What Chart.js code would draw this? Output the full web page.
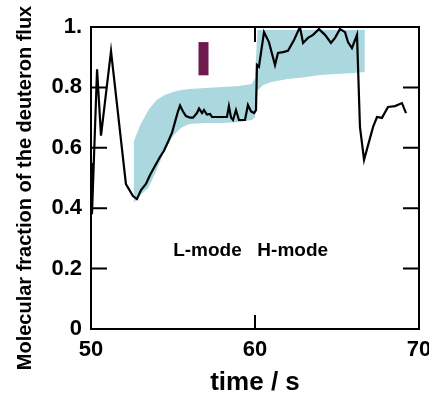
<!DOCTYPE html>
<html>
<head>
<meta charset="utf-8">
<script src="https://cdn.jsdelivr.net/npm/chart.js@4.4.1/dist/chart.umd.min.js"></script>
<style>
  html, body { margin: 0; padding: 0; background: #fff; }
  #wrap { width: 429px; height: 400px; position: relative; }
</style>
</head>
<body>
<div id="wrap"><canvas id="chart"></canvas></div>
<script>
// measured deuteron molecular fraction (black trace)
const timeS = [
  50.0, 50.06, 50.37, 50.61, 51.22, 52.13, 52.56, 52.80, 53.05, 53.35,
  53.60, 53.90, 54.21, 54.45, 54.70, 54.94, 55.12, 55.30, 55.43, 55.61,
  55.79, 56.04, 56.22, 56.46, 56.59, 56.77, 56.89, 57.07, 57.26, 57.38,
  57.62, 57.99, 58.29, 58.41, 58.54, 58.66, 58.84, 59.02, 59.39, 59.57,
  59.76, 59.94, 60.06, 60.12, 60.24, 60.55, 60.85, 61.22, 61.40, 61.71,
  62.01, 62.38, 62.74, 62.93, 63.23, 63.54, 63.90, 64.27, 64.63, 64.88,
  65.18, 65.49, 65.67, 65.91, 66.22, 66.40, 66.65, 67.20, 67.44, 67.74,
  68.11, 68.54, 68.96, 69.21
];
const fraction = [
  0.55, 0.38, 0.86, 0.64, 0.92, 0.48, 0.44, 0.43, 0.46, 0.48,
  0.51, 0.54, 0.57, 0.59, 0.62, 0.65, 0.685, 0.72, 0.74, 0.72,
  0.705, 0.70, 0.70, 0.715, 0.73, 0.715, 0.725, 0.71, 0.712, 0.702,
  0.702, 0.702, 0.702, 0.738, 0.70, 0.692, 0.725, 0.692, 0.692, 0.742,
  0.72, 0.715, 0.725, 0.874, 0.868, 0.983, 0.95, 0.874, 0.914, 0.917,
  0.921, 0.957, 1.0, 0.947, 0.964, 0.974, 0.993, 0.974, 0.947, 0.964,
  0.993, 0.983, 0.95, 0.93, 0.974, 0.669, 0.56, 0.669, 0.702, 0.699,
  0.735, 0.738, 0.748, 0.715
];

// shaded band (model range)
const bandTime = [
  52.6, 53.0, 53.5, 54.0, 54.5, 55.0, 55.5, 56.0, 57.0, 58.0,
  59.0, 59.8, 60.0, 60.15, 60.5, 61.0, 62.0, 63.0, 64.0, 65.0,
  66.0, 66.7
];
const bandUpper = [
  0.62, 0.675, 0.725, 0.758, 0.775, 0.785, 0.791, 0.795, 0.798, 0.801,
  0.805, 0.811, 0.83, 0.99, 0.99, 0.99, 0.99, 0.99, 0.99, 0.99,
  0.99, 0.99
];
const bandLower = [
  0.417, 0.444, 0.467, 0.526, 0.593, 0.639, 0.666, 0.679, 0.682, 0.682,
  0.685, 0.692, 0.70, 0.79, 0.808, 0.818, 0.828, 0.834, 0.841, 0.844,
  0.848, 0.851
];

// short vertical marker (error bar)
const markerTime = [56.86, 56.86];
const markerValue = [0.84, 0.95];

const yTickLabels = { 0: "0", 0.2: "0.2", 0.4: "0.4", 0.6: "0.6", 0.8: "0.8", 1: "1." };
const innerTicksY = [0.2, 0.4, 0.6, 0.8];
const innerTicksX = [60];

const modeLabels = [
  { text: "L-mode", x: 57.1, y: 0.26 },
  { text: "H-mode", x: 62.3, y: 0.26 }
];

const FONT = "'Liberation Sans', Arial, Helvetica, sans-serif";

function toPoints(xs, ys) {
  return xs.map((x, i) => ({ x: x, y: ys[i] }));
}

const framePlugin = {
  id: "frame",
  afterDraw(chart) {
    const { ctx, chartArea: a, scales: { x, y } } = chart;
    ctx.save();
    ctx.strokeStyle = "#000";
    ctx.lineWidth = 2;
    ctx.beginPath();
    ctx.moveTo(a.left, a.top);
    ctx.lineTo(a.right, a.top);
    ctx.lineTo(a.right, a.bottom);
    ctx.stroke();

    ctx.beginPath();
    innerTicksY.forEach(v => {
      const py = y.getPixelForValue(v);
      ctx.moveTo(a.left, py);
      ctx.lineTo(a.left + 16, py);
      ctx.moveTo(a.right, py);
      ctx.lineTo(a.right - 16, py);
    });
    innerTicksX.forEach(v => {
      const px = x.getPixelForValue(v);
      ctx.moveTo(px, a.bottom);
      ctx.lineTo(px, a.bottom - 14);
      ctx.moveTo(px, a.top);
      ctx.lineTo(px, a.top + 15);
    });
    ctx.stroke();

    ctx.fillStyle = "#000";
    ctx.font = "bold 19px " + FONT;
    ctx.textAlign = "center";
    ctx.textBaseline = "middle";
    modeLabels.forEach(l => {
      ctx.fillText(l.text, x.getPixelForValue(l.x), y.getPixelForValue(l.y));
    });

    ctx.translate(25, 188);
    ctx.rotate(-Math.PI / 2);
    ctx.font = "bold 20px " + FONT;
    ctx.fillText("Molecular fraction of the deuteron flux", 0, 0);
    ctx.restore();
  }
};

new Chart(document.getElementById("chart"), {
  type: "line",
  data: {
    datasets: [
      {
        data: toPoints(markerTime, markerValue),
        borderColor: "#6e1a4e",
        borderWidth: 10,
        borderCapStyle: "butt",
        pointRadius: 0,
        order: 0
      },
      {
        data: toPoints(timeS, fraction),
        borderColor: "#000",
        borderWidth: 2.2,
        pointRadius: 0,
        fill: false,
        order: 1
      },
      {
        data: toPoints(bandTime, bandUpper),
        borderWidth: 0,
        borderColor: "rgba(0,0,0,0)",
        backgroundColor: "rgb(170,216,222)",
        pointRadius: 0,
        fill: "+1",
        order: 2
      },
      {
        data: toPoints(bandTime, bandLower),
        borderWidth: 0,
        borderColor: "rgba(0,0,0,0)",
        pointRadius: 0,
        fill: false,
        order: 3
      }
    ]
  },
  options: {
    responsive: true,
    maintainAspectRatio: false,
    animation: false,
    layout: { padding: { top: 27, right: 10, left: 0, bottom: 0 } },
    plugins: { legend: { display: false }, tooltip: { enabled: false } },
    scales: {
      x: {
        type: "linear",
        min: 50,
        max: 70,
        grid: { display: false, drawTicks: false },
        border: { display: true, color: "#000", width: 2 },
        ticks: {
          stepSize: 10,
          padding: 8,
          color: "#000",
          font: { family: FONT, size: 22, weight: "bold" },
          maxRotation: 0
        },
        title: {
          display: true,
          text: "time / s",
          color: "#000",
          font: { family: FONT, size: 26, weight: "bold" },
          padding: { top: 0, bottom: 2 }
        },
        afterFit(scale) {
          scale.height = 71;
          scale.paddingLeft = 0;
          scale.paddingRight = 0;
        }
      },
      y: {
        min: 0,
        max: 1,
        grid: { display: false, drawTicks: false },
        border: { display: true, color: "#000", width: 2 },
        ticks: {
          stepSize: 0.2,
          padding: 9,
          color: "#000",
          font: { family: FONT, size: 22, weight: "bold" },
          callback: v => yTickLabels[Math.round(v * 10) / 10]
        },
        afterFit(scale) {
          scale.width = 91;
          scale.paddingTop = 0;
          scale.paddingBottom = 0;
        }
      }
    }
  },
  plugins: [framePlugin]
});
</script>
</body>
</html>
